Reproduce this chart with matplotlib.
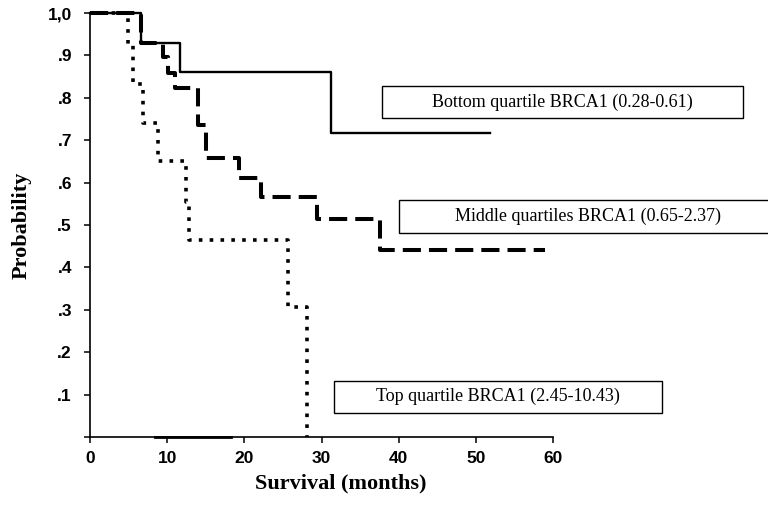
"""Kaplan-Meier style survival curves by BRCA1 expression quartile."""

import matplotlib
matplotlib.use("Agg")
import matplotlib.pyplot as plt
from matplotlib.patches import Rectangle


# survival steps (months, probability)
BOTTOM_T = [0, 6.6, 11.7, 31.2, 51.8]
BOTTOM_S = [1.0, 0.93, 0.862, 0.717, 0.717]

MIDDLE_T = [0, 6.6, 9.5, 10.1, 11.0, 14.0, 15.0, 19.3, 22.2, 29.4, 37.6, 59.0]
MIDDLE_S = [1.0, 0.93, 0.897, 0.858, 0.822, 0.736, 0.657, 0.61, 0.565, 0.515, 0.441, 0.441]

TOP_T = [0, 4.9, 5.6, 6.9, 8.8, 12.4, 12.8, 25.7, 28.1]
TOP_S = [1.0, 0.925, 0.833, 0.74, 0.652, 0.555, 0.465, 0.307, 0.0]

BASE_T = [8.4, 18.3]
BASE_S = [0.0, 0.0]

X_TICKS = [0, 10, 20, 30, 40, 50, 60]
Y_TICKS = [0, 0.1, 0.2, 0.3, 0.4, 0.5, 0.6, 0.7, 0.8, 0.9, 1.0]
Y_TICK_LABELS = ["", ".1", ".2", ".3", ".4", ".5", ".6", ".7", ".8", ".9", "1,0"]

LABELS = [
    "Bottom quartile BRCA1 (0.28-0.61)",
    "Middle quartiles BRCA1 (0.65-2.37)",
    "Top quartile BRCA1 (2.45-10.43)",
]

W, H = 768, 518
SANS_BOLD = {"family": "Liberation Sans", "weight": "bold"}
SERIF = "Liberation Serif"


def px_box(x0, y0, x1, y1):
    # pixel box (top-left origin) -> figure fractions
    return x0 / W, 1 - y1 / H, (x1 - x0) / W, (y1 - y0) / H


def main() -> None:
    fig = plt.figure(figsize=(W / 100, H / 100), dpi=100)
    ax = fig.add_axes([90 / W, 1 - 437 / H, (553 - 90) / W, (437 - 13) / H])

    ax.step(BOTTOM_T, BOTTOM_S, where="post", color="black", lw=1.7)
    ax.step(MIDDLE_T, MIDDLE_S, where="post", color="black", lw=2.9,
            dashes=(4.5, 2.0), dash_capstyle="butt")
    ax.step(TOP_T, TOP_S, where="post", color="black", lw=2.6,
            dashes=(1.0, 2.0), dash_capstyle="butt")
    ax.plot(BASE_T, BASE_S, color="black", lw=2.0)

    ax.set_xlim(0, 60)
    ax.set_ylim(0, 1.0)
    ax.set_xticks(X_TICKS)
    ax.set_xticklabels([str(t) for t in X_TICKS], fontdict=SANS_BOLD, fontsize=12.5)
    ax.set_yticks(Y_TICKS)
    ax.set_yticklabels(Y_TICK_LABELS, fontdict=SANS_BOLD, fontsize=12.5)
    ax.tick_params(direction="out", length=4, width=1.1)
    ax.tick_params(axis="x", pad=6)
    ax.tick_params(axis="y", pad=9)

    for side in ("top", "right"):
        ax.spines[side].set_visible(False)
    for side in ("left", "bottom"):
        ax.spines[side].set_linewidth(1.2)
    for line in ax.lines:
        line.set_clip_on(False)

    fig.text(22 / W, 1 - 225 / H, "Probability", rotation=90, ha="center", va="center",
             family=SERIF, weight="bold", fontsize=16)
    fig.text(341 / W, 1 - 483 / H, "Survival (months)", ha="center", va="center",
             family=SERIF, weight="bold", fontsize=16)

    boxes = [
        (382, 86, 743, 118.5),
        (399, 200, 790, 233),
        (334, 381, 662, 412.5),
    ]
    text_x = [562, 588, 498]
    for (x0, y0, x1, y1), label, tx in zip(boxes, LABELS, text_x):
        fx, fy, fw, fh = px_box(x0, y0, x1, y1)
        fig.add_artist(Rectangle((fx, fy), fw, fh, transform=fig.transFigure,
                                 facecolor="white", edgecolor="black", lw=1.0))
        fig.text(tx / W, 1 - (y0 + y1) / 2 / H, label, ha="center", va="center",
                 family=SERIF, fontsize=13)

    fig.savefig("out.png", dpi=100)


if __name__ == "__main__":
    main()
